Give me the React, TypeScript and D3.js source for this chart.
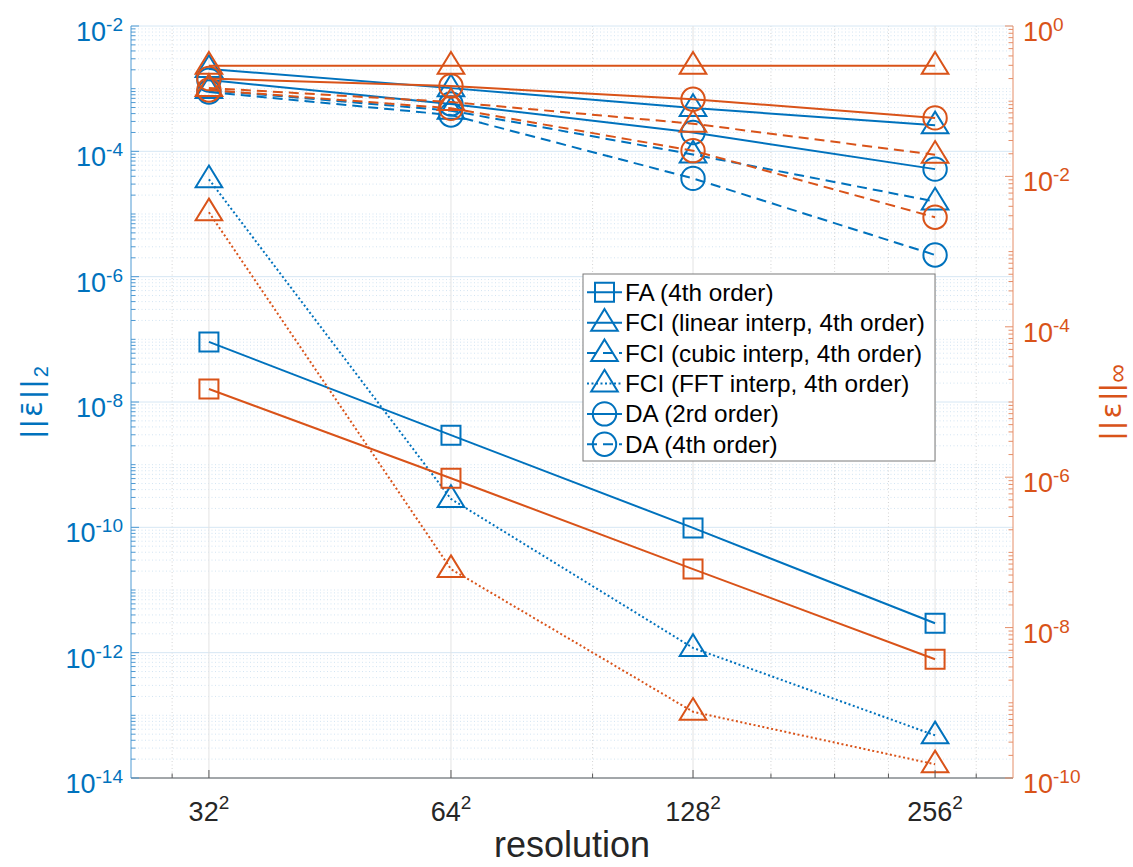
import React, { useEffect, useRef } from "react";
import * as d3 from "d3";

// resolution N (plotted as N^2 labels)
const resolutions = [32, 64, 128, 256];
const xTickLabels = ["32", "64", "128", "256"];
const xMinorTicks = [28.8, 96, 160, 192, 224, 288];

const seriesNames = [
  "FA (4th order)",
  "FCI (linear interp, 4th order)",
  "FCI (cubic interp, 4th order)",
  "FCI (FFT interp, 4th order)",
  "DA (2rd order)",
  "DA (4th order)",
];
const markerTypes = ["square", "triangle", "triangle", "triangle", "circle", "circle"];
const lineStyles = ["solid", "solid", "dashed", "dotted", "solid", "dashed"];

// left axis: ||eps_bar||_2
const l2FA = [9.1e-8, 2.96e-9, 9.8e-11, 2.95e-12];
const l2FCILinear = [2.06e-3, 1.02e-3, 4.92e-4, 2.6e-4];
const l2FCICubic = [9.5e-4, 4.45e-4, 8.9e-5, 1.58e-5];
const l2FCIFFT = [3.58e-5, 2.84e-10, 1.19e-12, 4.8e-14];
const l2DA2 = [1.37e-3, 5.7e-4, 2.0e-4, 5.2e-5];
const l2DA4 = [8.85e-4, 3.8e-4, 3.7e-5, 2.22e-6];

// right axis: ||eps||_inf
const infFA = [1.49e-5, 9.7e-7, 6.0e-8, 3.8e-9];
const infFCILinear = [0.297, 0.297, 0.297, 0.297];
const infFCICubic = [0.15, 0.0975, 0.0502, 0.0194];
const infFCIFFT = [3.33e-3, 6.0e-8, 7.6e-10, 1.52e-10];
const infDA2 = [0.2, 0.159, 0.106, 0.06];
const infDA4 = [0.141, 0.0805, 0.022, 2.86e-3];

const leftExponents = [-14, -12, -10, -8, -6, -4, -2];
const rightExponents = [-10, -8, -6, -4, -2, 0];

const BLUE = "#0072BD";
const ORANGE = "#D95319";
const FONT = "'Liberation Sans', Arial, Helvetica, sans-serif";

function markerPath(type: string): string {
  if (type === "square") return "M-9.5,-9.5H9.5V9.5H-9.5Z";
  if (type === "triangle") return "M0,-13.7L13.3,8L-13.3,8Z";
  const r = 11.7;
  return `M${r},0A${r},${r} 0 1,1 ${-r},0A${r},${r} 0 1,1 ${r},0Z`;
}

function dashFor(style: string): string | null {
  if (style === "dashed") return "10,6";
  if (style === "dotted") return "2,2.5";
  return null;
}

// minor values k*10^e for a decade range, skipping labelled majors
function minorValues(lo: number, hi: number, majors: number[]): number[] {
  const out: number[] = [];
  for (let e = lo; e < hi; e++) {
    for (let k = 1; k <= 9; k++) {
      if (k === 1 && majors.includes(e)) continue;
      out.push(k * Math.pow(10, e));
    }
  }
  return out;
}

const App = () => {
  const ref = useRef<SVGSVGElement>(null);

  useEffect(() => {
    const width = 1133;
    const height = 867;
    const left = 131,
      right = 1013,
      top = 26,
      bottom = 778;

    const svg = d3.select(ref.current).attr("width", width).attr("height", height);
    svg.selectAll("*").remove();

    const x = d3.scaleLog().domain([25.6, 320]).range([left, right]);
    const yL = d3.scaleLog().domain([1e-14, 1e-2]).range([bottom, top]);
    const yR = d3.scaleLog().domain([1e-10, 1]).range([bottom, top]);

    svg.append("rect").attr("width", width).attr("height", height).attr("fill", "#fff");

    // grid
    const grid = svg.append("g");
    const leftMinor = minorValues(-14, -2, leftExponents);
    grid
      .selectAll(".hminor")
      .data(leftMinor)
      .join("line")
      .attr("x1", left)
      .attr("x2", right)
      .attr("y1", (d) => yL(d))
      .attr("y2", (d) => yL(d))
      .attr("stroke", "#a9cbe7")
      .attr("stroke-opacity", 0.5)
      .attr("stroke-dasharray", "1,2.5");
    grid
      .selectAll(".vminor")
      .data(xMinorTicks)
      .join("line")
      .attr("x1", (d) => x(d))
      .attr("x2", (d) => x(d))
      .attr("y1", top)
      .attr("y2", bottom)
      .attr("stroke", "#b8b8b8")
      .attr("stroke-opacity", 0.6)
      .attr("stroke-dasharray", "1,2.5");
    grid
      .selectAll(".hmajor")
      .data(leftExponents)
      .join("line")
      .attr("x1", left)
      .attr("x2", right)
      .attr("y1", (d) => yL(Math.pow(10, d)))
      .attr("y2", (d) => yL(Math.pow(10, d)))
      .attr("stroke", "#d6e7f4");
    grid
      .selectAll(".vmajor")
      .data(resolutions)
      .join("line")
      .attr("x1", (d) => x(d))
      .attr("x2", (d) => x(d))
      .attr("y1", top)
      .attr("y2", bottom)
      .attr("stroke", "#e3e3e3");

    // series
    const leftSeries = [l2FA, l2FCILinear, l2FCICubic, l2FCIFFT, l2DA2, l2DA4];
    const rightSeries = [infFA, infFCILinear, infFCICubic, infFCIFFT, infDA2, infDA4];

    const drawSet = (sets: number[][], yScale: any, color: string) => {
      sets.forEach((vals, i) => {
        const pts = vals.map((v, j) => [x(resolutions[j]), yScale(v)] as [number, number]);
        const line = d3.line();
        const p = svg
          .append("path")
          .attr("d", line(pts))
          .attr("fill", "none")
          .attr("stroke", color)
          .attr("stroke-width", 2);
        const dash = dashFor(lineStyles[i]);
        if (dash) p.attr("stroke-dasharray", dash);
        svg
          .append("g")
          .selectAll("path")
          .data(pts)
          .join("path")
          .attr("transform", (d) => `translate(${d[0]},${d[1]})`)
          .attr("d", markerPath(markerTypes[i]))
          .attr("fill", "none")
          .attr("stroke", color)
          .attr("stroke-width", 2);
      });
    };
    drawSet(leftSeries, yL, BLUE);
    drawSet(rightSeries, yR, ORANGE);

    // axes
    const axes = svg.append("g");
    axes
      .append("line")
      .attr("x1", left)
      .attr("x2", right)
      .attr("y1", bottom)
      .attr("y2", bottom)
      .attr("stroke", "#5a5a5a");
    axes
      .append("line")
      .attr("x1", left)
      .attr("x2", left)
      .attr("y1", top)
      .attr("y2", bottom)
      .attr("stroke", "#4f9ad3");
    axes
      .append("line")
      .attr("x1", right)
      .attr("x2", right)
      .attr("y1", top)
      .attr("y2", bottom)
      .attr("stroke", "#e58e68");

    // x ticks
    axes
      .selectAll(".xt")
      .data(resolutions)
      .join("line")
      .attr("x1", (d) => x(d))
      .attr("x2", (d) => x(d))
      .attr("y1", bottom)
      .attr("y2", bottom - 8)
      .attr("stroke", "#5a5a5a");
    axes
      .selectAll(".xm")
      .data(xMinorTicks)
      .join("line")
      .attr("x1", (d) => x(d))
      .attr("x2", (d) => x(d))
      .attr("y1", bottom)
      .attr("y2", bottom - 4.5)
      .attr("stroke", "#5a5a5a");

    // left ticks
    axes
      .selectAll(".lt")
      .data(leftExponents)
      .join("line")
      .attr("x1", left)
      .attr("x2", left + 8)
      .attr("y1", (d) => yL(Math.pow(10, d)))
      .attr("y2", (d) => yL(Math.pow(10, d)))
      .attr("stroke", "#4f9ad3");
    axes
      .selectAll(".lm")
      .data(leftMinor)
      .join("line")
      .attr("x1", left)
      .attr("x2", left + 4.5)
      .attr("y1", (d) => yL(d))
      .attr("y2", (d) => yL(d))
      .attr("stroke", "#4f9ad3");

    // right ticks
    const rightMinor = minorValues(-10, 0, rightExponents);
    axes
      .selectAll(".rt")
      .data(rightExponents)
      .join("line")
      .attr("x1", right)
      .attr("x2", right - 8)
      .attr("y1", (d) => yR(Math.pow(10, d)))
      .attr("y2", (d) => yR(Math.pow(10, d)))
      .attr("stroke", "#e58e68");
    axes
      .selectAll(".rm")
      .data(rightMinor)
      .join("line")
      .attr("x1", right)
      .attr("x2", right - 4.5)
      .attr("y1", (d) => yR(d))
      .attr("y2", (d) => yR(d))
      .attr("stroke", "#e58e68");

    // tick labels
    const labels = svg.append("g").attr("font-family", FONT);
    const xl = labels
      .selectAll(".xl")
      .data(resolutions)
      .join("text")
      .attr("x", (d) => x(d))
      .attr("y", 821)
      .attr("text-anchor", "middle")
      .attr("font-size", 27)
      .attr("fill", "#262626");
    xl.append("tspan").text((d, i) => xTickLabels[i]);
    xl.append("tspan").attr("dy", -12).attr("font-size", 19).text("2");

    const ll = labels
      .selectAll(".ll")
      .data(leftExponents)
      .join("text")
      .attr("x", 123)
      .attr("y", (d) => yL(Math.pow(10, d)) + 15)
      .attr("text-anchor", "end")
      .attr("font-size", 27)
      .attr("fill", BLUE);
    ll.append("tspan").text("10");
    ll.append("tspan").attr("dy", -10).attr("font-size", 19).text((d) => `${d}`);

    const rl = labels
      .selectAll(".rl")
      .data(rightExponents)
      .join("text")
      .attr("x", 1023)
      .attr("y", (d) => yR(Math.pow(10, d)) + 15)
      .attr("text-anchor", "start")
      .attr("font-size", 27)
      .attr("fill", ORANGE);
    rl.append("tspan").text("10");
    rl.append("tspan").attr("dy", -10).attr("font-size", 19).text((d) => `${d}`);

    // axis titles
    labels
      .append("text")
      .attr("x", (left + right) / 2)
      .attr("y", 857)
      .attr("text-anchor", "middle")
      .attr("font-size", 36)
      .attr("fill", "#262626")
      .text("resolution");

    const ylab = labels
      .append("text")
      .attr("transform", `translate(42,${(top + bottom) / 2}) rotate(-90)`)
      .attr("text-anchor", "middle")
      .attr("font-size", 29)
      .attr("fill", BLUE);
    ylab.append("tspan").attr("letter-spacing", 3).text("||");
    ylab.append("tspan").attr("font-family", "'DejaVu Sans'").attr("letter-spacing", 3).text("\u03b5\u0304");
    ylab.append("tspan").attr("letter-spacing", 3).text("||");
    ylab.append("tspan").attr("dy", 6).attr("font-size", 20).text("2");

    const yrlab = labels
      .append("text")
      .attr("transform", `translate(1121,${(top + bottom) / 2}) rotate(-90)`)
      .attr("text-anchor", "middle")
      .attr("font-size", 29)
      .attr("fill", ORANGE);
    yrlab.append("tspan").attr("letter-spacing", 3).text("||");
    yrlab.append("tspan").attr("font-family", "'DejaVu Sans'").attr("letter-spacing", 3).text("\u03b5");
    yrlab.append("tspan").attr("letter-spacing", 1).text("||");
    yrlab.append("tspan").attr("dy", 5).attr("font-size", 26).text("\u221e");

    // legend
    const lg = svg.append("g").attr("font-family", FONT);
    lg.append("rect")
      .attr("x", 583)
      .attr("y", 274)
      .attr("width", 352)
      .attr("height", 187)
      .attr("fill", "#fff")
      .attr("stroke", "#7a7a7a");
    seriesNames.forEach((name, i) => {
      const cy = 292.3 + i * 30.4;
      const l = lg
        .append("line")
        .attr("x1", 587)
        .attr("x2", 622)
        .attr("y1", cy)
        .attr("y2", cy)
        .attr("stroke", BLUE)
        .attr("stroke-width", 2);
      const dash = dashFor(lineStyles[i]);
      if (dash) l.attr("stroke-dasharray", dash);
      lg.append("path")
        .attr("transform", `translate(604.5,${cy})`)
        .attr("d", markerPath(markerTypes[i]))
        .attr("fill", "none")
        .attr("stroke", BLUE)
        .attr("stroke-width", 2);
      lg.append("text")
        .attr("x", 625)
        .attr("y", cy + 8.5)
        .attr("font-size", 24.3)
        .attr("fill", "#000")
        .text(name);
    });
  }, []);

  return (
    <div style={{ position: "absolute", left: 0, top: 0 }}>
      <svg ref={ref} style={{ display: "block" }}></svg>
    </div>
  );
};

export default App;
